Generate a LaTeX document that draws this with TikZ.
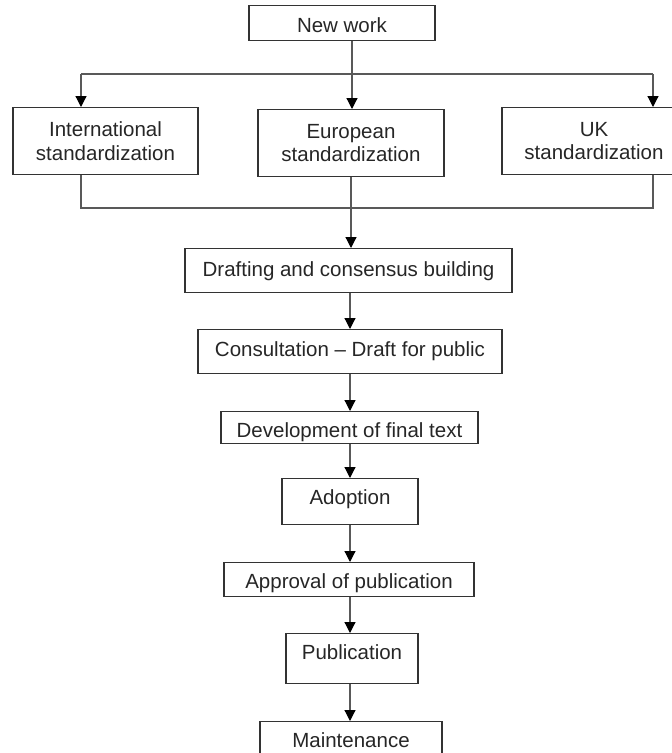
\documentclass[tikz,border=0pt]{standalone}
\usepackage{fontspec}
\setmainfont{Liberation Sans}
\usetikzlibrary{arrows.meta}

\tikzset{
	stage/.style={draw=black!80, line width=1.1pt, anchor=north, inner xsep=0pt, inner ysep=0pt, text height=26pt, text=black!85, font=\fontsize{20.5}{23.5}\selectfont},
	branch/.style={draw=black!80, line width=1.1pt, anchor=north, inner sep=0pt, minimum height=67pt, align=center, text=black!85, font=\fontsize{20.5}{23.5}\selectfont},
	link/.style={draw=black!65, line width=1.2pt},
	flow/.style={link, -{Triangle[length=11pt,width=11pt,color=black,fill=black]}}
}

\begin{document}
\begin{tikzpicture}[x=1pt,y=-1pt]
		\useasboundingbox (0,0) rectangle (672,753);
		
		\node[stage, minimum width=186pt, text height=27pt, text depth=8pt] (new) at (342,5){New work};
		
		\node[branch, minimum width=185pt] (intl) at (105.5,107){International\\standardization};
		\node[branch, minimum width=186pt] (euro) at (351,109){European\\standardization};
		\node[branch, minimum width=184pt] (uk) at (594,107){UK\\standardization};
		
		\node[stage, minimum width=327pt, text height=28pt, text depth=16pt] (draft) at (348.5,248){Drafting and consensus building};
		\node[stage, minimum width=304pt, text height=27pt, text depth=17pt] (consult) at (350,329){Consultation – Draft for public};
		\node[stage, minimum width=257pt, text depth=6pt] (devel) at (349.5,411){Development of final text};
		\node[stage, minimum width=136pt, text depth=20pt] (adopt) at (350,478){Adoption};
		\node[stage, minimum width=250pt, text depth=8pt] (approve) at (349,562){Approval of publication};
		\node[stage, minimum width=132pt, text depth=24pt] (publ) at (352,633){Publication};
		\node[stage, minimum width=182pt, text depth=24pt] (maint) at (351,721){Maintenance};
		
		\coordinate (split) at (352,74);
		\coordinate (lsplit) at (81,74);
		\coordinate (rsplit) at (653,74);
		\coordinate (lmerge) at (81,208);
		\coordinate (rmerge) at (653,208);
		\coordinate (spine) at (350,0);
		
		\draw[link] (new.south -| split) -- (split);
		\draw[link] (lsplit) -- (rsplit);
		\draw[flow] (lsplit) -- (lsplit |- intl.north);
		\draw[flow] (split) -- (split |- euro.north);
		\draw[flow] (rsplit) -- (rsplit |- uk.north);
		
		\draw[link] (intl.south -| lmerge) -- (lmerge) -- (rmerge) -- (uk.south -| rmerge);
		\draw[flow] (euro.south) -- (euro.south |- draft.north);
		
		\foreach \a/\b in {draft/consult, consult/devel, devel/adopt, adopt/approve, approve/publ, publ/maint}
			\draw[flow] (\a.south -| spine) -- (\b.north -| spine);
	\end{tikzpicture}
\end{document}
